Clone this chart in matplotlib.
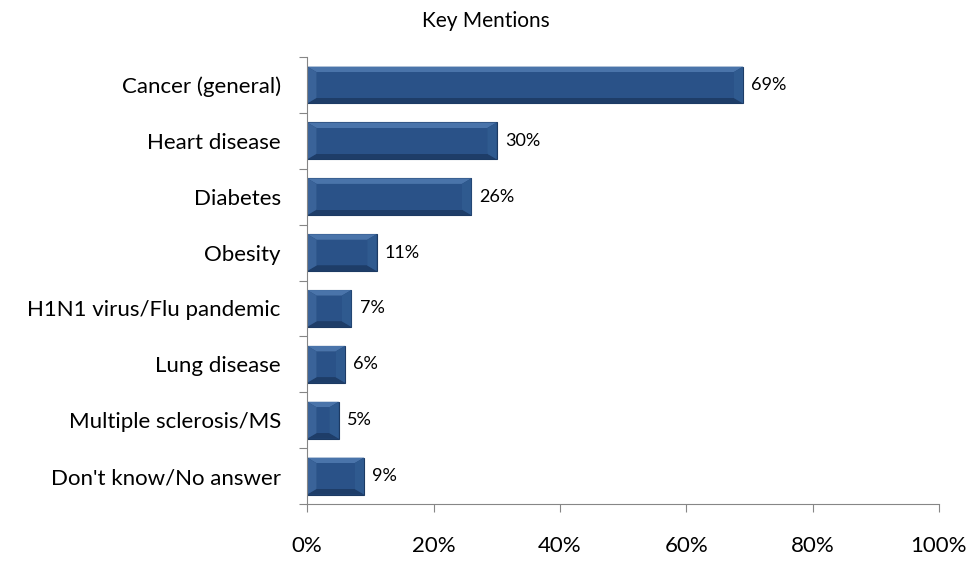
import numpy as np
import matplotlib.pyplot as plt
from matplotlib.patches import Polygon

categories = ["Cancer (general)", "Heart disease", "Diabetes", "Obesity",
              "H1N1 virus/Flu pandemic", "Lung disease",
              "Multiple sclerosis/MS", "Don't know/No answer"]
values = [69, 30, 26, 11, 7, 6, 5, 9]
xticks = [0, 20, 40, 60, 80, 100]

plt.rcParams['font.family'] = ['Lato', 'DejaVu Sans']

fig = plt.figure(figsize=(9.72, 5.61), dpi=100)
ax = fig.add_axes([0.316, 0.1016, 0.65, 0.7966])

n = len(categories)
h = 0.66
bx = 1.5   # bevel in x (data units)
by = 0.1   # bevel in y (band units)
face = '#2a5288'
for i, v in enumerate(values):
    yc = n - 1 - i
    y0, y1 = yc - h / 2, yc + h / 2
    x0, x1 = 0, v
    # whole bar
    ax.add_patch(Polygon([(x0, y0), (x1, y0), (x1, y1), (x0, y1)],
                         closed=True, fc='#24487a', ec='#1c3a63', lw=0.8))
    # top bevel
    ax.add_patch(Polygon([(x0, y1), (x1, y1), (x1 - bx, y1 - by), (x0 + bx, y1 - by)],
                         closed=True, fc='#4a74aa', ec='none'))
    # bottom bevel
    ax.add_patch(Polygon([(x0, y0), (x1, y0), (x1 - bx, y0 + by), (x0 + bx, y0 + by)],
                         closed=True, fc='#1e3d68', ec='none'))
    # left / right bevel
    ax.add_patch(Polygon([(x0, y0), (x0 + bx, y0 + by), (x0 + bx, y1 - by), (x0, y1)],
                         closed=True, fc='#3a6399', ec='none'))
    ax.add_patch(Polygon([(x1, y0), (x1 - bx, y0 + by), (x1 - bx, y1 - by), (x1, y1)],
                         closed=True, fc='#2f5a8f', ec='none'))
    # face
    ax.add_patch(Polygon([(x0 + bx, y0 + by), (x1 - bx, y0 + by),
                          (x1 - bx, y1 - by), (x0 + bx, y1 - by)],
                         closed=True, fc=face, ec='none'))
    ax.text(v + 1.3, yc, f"{v}%", va='center', ha='left', fontsize=13, color='black')

ax.set_xlim(0, 100)
ax.set_ylim(-0.5, n - 0.5)

ax.set_xticks(xticks)
ax.set_xticklabels([f"{t}%" for t in xticks], fontsize=16)
ax.tick_params(axis='x', direction='out', length=6, color='#868686', pad=17)

ax.set_yticks(np.arange(-0.5, n, 1.0))
ax.set_yticklabels([])
ax.set_yticks(np.arange(n), minor=True)
ax.set_yticklabels(categories[::-1], minor=True, fontsize=16)
ax.tick_params(axis='y', which='major', direction='out', length=6, color='#868686')
ax.tick_params(axis='y', which='minor', length=0, pad=19)

for s in ['top', 'right']:
    ax.spines[s].set_visible(False)
for s in ['left', 'bottom']:
    ax.spines[s].set_color('#868686')

fig.text(0.5, 1 - 21 / 561, "Key Mentions", ha='center', va='center', fontsize=15)

fig.savefig("out.png", dpi=100)
